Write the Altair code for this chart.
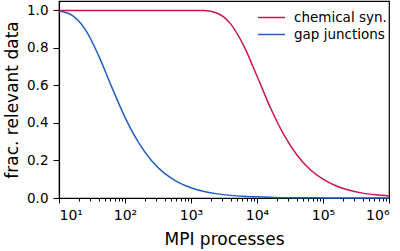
import altair as alt
import pandas as pd

# MPI process counts (x) and fraction of relevant data (y)
processes = [10, 15.85, 25.12, 39.81, 63.10, 100, 158.5, 251.2, 398.1, 631.0,
             1000, 1585, 2512, 3981, 6310, 10000, 15850, 25120, 39810, 63100,
             100000, 158500, 251200, 398100, 631000, 1000000]
chemical_syn = [1.0, 1.0, 1.0, 1.0, 1.0, 1.0, 1.0, 1.0, 1.0, 1.0,
                1.0, 0.999, 0.985, 0.928, 0.811, 0.650, 0.484, 0.342, 0.232, 0.153,
                0.100, 0.064, 0.041, 0.026, 0.017, 0.011]
gap_junctions = [0.997, 0.974, 0.897, 0.759, 0.591, 0.430, 0.299, 0.200, 0.131, 0.085,
                 0.055, 0.035, 0.022, 0.014, 0.009, 0.006, 0.004, 0.002, 0.0014, 0.0009,
                 0.0006, 0.0004, 0.0002, 0.0001, 0.0001, 0.0001]
series_names = ["chemical syn.", "gap junctions"]
series_colors = ["#c8174f", "#1f5fc4"]

major_ticks = [10, 100, 1000, 10000, 100000, 1000000]
minor_ticks = [m * d for d in [10, 100, 1000, 10000, 100000] for m in range(2, 10)]
y_ticks = [0.0, 0.2, 0.4, 0.6, 0.8, 1.0]

rows = []
for n, c, g in zip(processes, chemical_syn, gap_junctions):
    rows.append({"N": n, "frac": c, "series": series_names[0]})
    rows.append({"N": n, "frac": g, "series": series_names[1]})
df = pd.DataFrame(rows)

label_expr = ("datum.value == 10 ? '10¹' : datum.value == 100 ? '10²' : "
              "datum.value == 1000 ? '10³' : datum.value == 10000 ? '10⁴' : "
              "datum.value == 100000 ? '10⁵' : datum.value == 1000000 ? '10⁶' : ''")

chart = alt.Chart(df).mark_line(strokeWidth=1.5, interpolate="monotone").encode(
    x=alt.X("N:Q",
            scale=alt.Scale(type="log", domain=[10, 1000000], nice=False),
            axis=alt.Axis(title="MPI processes", values=major_ticks + minor_ticks,
                          labelExpr=label_expr, labelPadding=5, labelFontSize=14,
                          tickSize={"condition": {"test": "indexof([10,100,1000,10000,100000,1000000], datum.value) >= 0", "value": 5}, "value": 3},
                          grid=False, titlePadding=9)),
    y=alt.Y("frac:Q",
            scale=alt.Scale(domain=[0, 1.05], nice=False, zero=False),
            axis=alt.Axis(title="frac. relevant data", values=y_ticks, format=".1f",
                          grid=False, tickSize=6, labelPadding=5, titlePadding=5)),
    color=alt.Color("series:N",
                    scale=alt.Scale(domain=series_names, range=series_colors),
                    legend=alt.Legend(title=None, orient="none", legendX=202.5, legendY=6.5,
                                      symbolType="M-1.5,0H1.5", symbolSize=324,
                                      symbolStrokeWidth=1.5, rowPadding=0,
                                      labelOffset=12.5, labelFontSize=13.5, padding=0)),
).properties(
    width=330, height=197,
    autosize="none",
    padding={"left": 59, "top": 1, "right": 11, "bottom": 53},
).configure(
    font="DejaVu Sans",
).configure_view(
    stroke="black", strokeWidth=1.2,
).configure_axis(
    domainColor="black", domainWidth=1.2, tickColor="black", tickWidth=1,
    labelColor="black", titleColor="black", labelFontSize=13.5, titleFontSize=17,
    titleFontWeight="normal", labelPadding=3,
).configure_legend(
    labelColor="black",
)

chart.save("out.html", embed_options={"renderer": "svg", "actions": False})
